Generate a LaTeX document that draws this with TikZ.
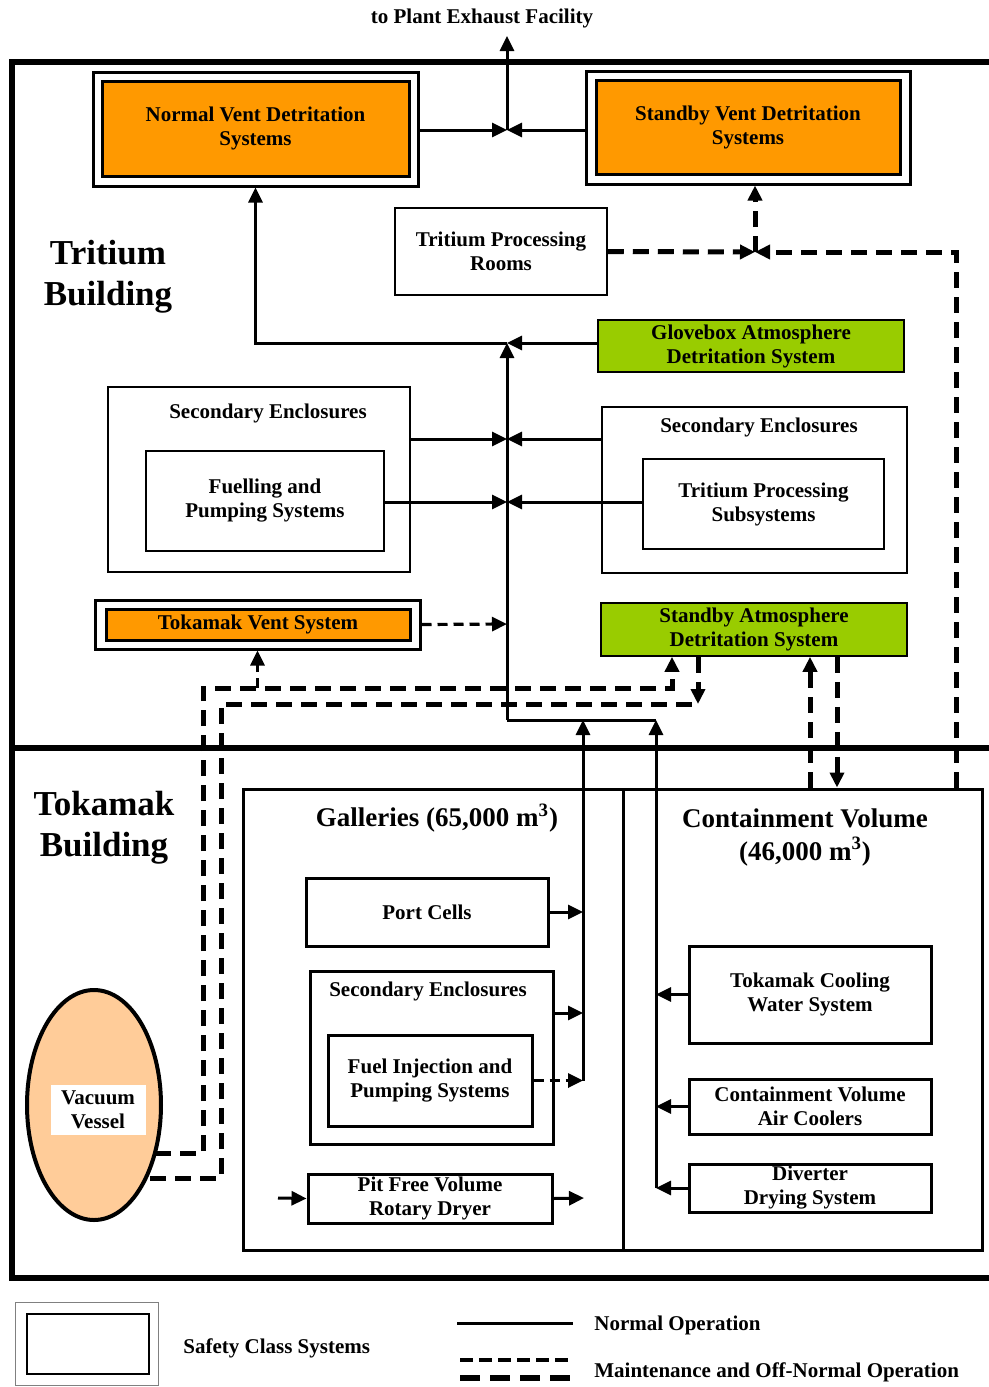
\documentclass[tikz,border=0pt]{standalone}
\usepackage{fontspec}
\setmainfont{Liberation Serif}
\usetikzlibrary{shapes.geometric,arrows.meta}
\definecolor{vorange}{HTML}{FF9900}
\definecolor{vgreen}{HTML}{99CC00}
\definecolor{vpeach}{HTML}{FFCC99}
\tikzset{
 txt/.style={font=\fontsize{10.5}{12}\selectfont\bfseries, align=center, inner sep=0pt},
 bigtxt/.style={font=\fontsize{17.5}{20.5}\selectfont\bfseries, align=center, inner sep=0pt},
 midtxt/.style={font=\fontsize{13.5}{16.5}\selectfont\bfseries, align=center, inner sep=0pt},
 boxfit/.style={inner sep=0pt, draw, txt},
 safeout/.style={boxfit, line width=1.5pt, fill=white},
 orangebox/.style={boxfit, line width=1.5pt, fill=vorange},
 greenbox/.style={boxfit, line width=0.8pt, fill=vgreen},
 thinbox/.style={boxfit, line width=0.75pt},
 medbox/.style={boxfit, line width=1.5pt},
 legout/.style={boxfit, line width=0.5pt, draw=gray},
 legin/.style={boxfit, line width=0.8pt},
 tip/.style={-{Triangle[length=7.5pt,width=7pt]}},
 conn/.style={line width=1.5pt, tip},
 plainc/.style={line width=1.5pt},
 dashc/.style={line width=2.5pt, dash pattern=on 8pt off 4.5pt, tip},
 dashp/.style={line width=2.5pt, dash pattern=on 8pt off 4.5pt},
 dashs/.style={line width=1.6pt, dash pattern=on 5pt off 3pt, tip},
 wall/.style={line width=3pt},
}
% box from corner pixel coordinates: style, name, x1, y1, x2, y2, text
\newcommand{\boxat}[7]{%
 \pgfmathsetmacro\bxcx{(#3+#5)/2}\pgfmathsetmacro\bxcy{(#4+#6)/2}%
 \pgfmathsetmacro\bxw{(#5-#3)*0.5}\pgfmathsetmacro\bxh{(#6-#4)*0.5}%
 \node[#1, minimum width=\bxw pt, minimum height=\bxh pt] (#2) at (\bxcx,\bxcy) {#7};}
\begin{document}
\begin{tikzpicture}[x=0.5pt,y=-0.5pt]
\useasboundingbox (0,0) rectangle (989,1387);
% building walls
\draw[wall] (989,62) -- (12,62) -- (12,1278) -- (989,1278);
\draw[wall] (10,748) -- (989,748);

% nodes
\node[txt] (exh) at (482,18) {to Plant Exhaust Facility};
\coordinate (exhT) at (507,36);
\boxat{safeout}{nvdO}{93}{72}{418}{186}{}
\boxat{orangebox}{nvd}{102}{81}{409}{176}{Normal Vent Detritation\\Systems}
\boxat{safeout}{svdO}{586}{71}{910}{184}{}
\boxat{orangebox}{svd}{596}{80}{900}{174}{Standby Vent Detritation\\Systems}
\boxat{thinbox}{tpr}{395}{208}{607}{295}{Tritium Processing\\Rooms}
\node[bigtxt] (tb) at (108,277) {Tritium\\Building};
\boxat{greenbox}{gb}{598}{320}{904}{372}{Glovebox Atmosphere\\Detritation System}
\boxat{thinbox}{seL}{108}{387}{410}{572}{}
\node[txt] (seLt) at (268,413) {Secondary Enclosures};
\boxat{thinbox}{fp}{146}{451}{384}{551}{Fuelling and\\Pumping Systems}
\boxat{thinbox}{seR}{602}{407}{907}{573}{}
\node[txt] (seRt) at (759,427) {Secondary Enclosures};
\boxat{thinbox}{tps}{643}{459}{884}{549}{Tritium Processing\\Subsystems}
\boxat{safeout}{tvO}{95}{600}{420}{649}{}
\boxat{orangebox}{tv}{106}{609}{410}{640}{Tokamak Vent System}
\boxat{greenbox}{sad}{601}{603}{907}{656}{Standby Atmosphere\\Detritation System}

\node[bigtxt] (tkb) at (104,828) {Tokamak\\Building};
\boxat{medbox}{gal}{243}{789}{623}{1250}{}
\node[midtxt] (galt) at (437,818) {Galleries (65,000 m\textsuperscript{3})};
\boxat{medbox}{cv}{623}{789}{982}{1250}{}
\node[midtxt] (cvt) at (805,837) {Containment Volume\\(46,000 m\textsuperscript{3})};
\boxat{medbox}{pc}{306}{878}{548}{946}{Port Cells}
\boxat{medbox}{seG}{310}{971}{553}{1144}{}
\node[txt] (seGt) at (428,991) {Secondary Enclosures};
\boxat{medbox}{fi}{328}{1035}{532}{1126}{Fuel Injection and\\Pumping Systems}
\boxat{medbox}{pf}{308}{1174}{552}{1223}{Pit Free Volume\\Rotary Dryer}
\boxat{medbox}{tcw}{689}{946}{931}{1043}{Tokamak Cooling\\Water System}
\boxat{medbox}{cva}{689}{1079}{931}{1134}{Containment Volume\\Air Coolers}
\boxat{medbox}{dds}{689}{1164}{931}{1212}{Diverter\\Drying System}
\node[ellipse, draw, line width=2pt, fill=vpeach, minimum width=67pt, minimum height=115pt, inner sep=0pt] (vv) at (94,1105) {};
\node[txt, fill=white, minimum width=47.5pt, minimum height=25pt] (vvl) at (98,1110) {Vacuum\\Vessel};

% junctions
\coordinate (J0) at (507,130);
\coordinate (Jsv) at (755,252);
\coordinate (Jgb) at (507,343);
\coordinate (J1) at (507,439);
\coordinate (J2) at (507,502);
\coordinate (Jtv) at (507,624);
\coordinate (Jb) at (507,720);
\coordinate (J583) at (583,720);
\coordinate (J656) at (656,720);
\coordinate (c1013) at (583,1013);
\coordinate (pfin) at (278,1198);
\coordinate (pfout) at (584,1198);
\coordinate (x956) at (956,0);
\coordinate (x810) at (810,0);
\coordinate (x837) at (837,0);
\coordinate (xA) at (672,0);
\coordinate (xB) at (698,0);
\coordinate (vvA) at (155,1153);
\coordinate (vvB) at (150,1178);
\coordinate (A1) at (203,688);
\coordinate (B1) at (221,704);

% normal operation connectors
\draw[conn] (nvdO.east |- J0) -- (J0);
\draw[conn] (svdO.west |- J0) -- (J0);
\draw[conn] (J0) -- (exhT);
\draw[conn] (gb.west |- Jgb) -- (Jgb);
\draw[conn] (Jgb) -| (nvdO.south);
\draw[conn] (Jb) -- (Jgb);
\draw[conn] (seL.east |- J1) -- (J1);
\draw[conn] (seR.west |- J1) -- (J1);
\draw[conn] (fp.east |- J2) -- (J2);
\draw[conn] (tps.west |- J2) -- (J2);
\draw[plainc] (Jb) -- (J656);
\draw[conn] (fi.east -| J583) -- (J583);
\draw[conn] (dds.west -| J656) -- (J656);
\draw[conn] (pc.east) -- (pc.east -| J583);
\draw[conn] (seG.east |- c1013) -- (c1013);
\draw[conn] (pfin) -- (pf.west);
\draw[conn] (pf.east) -- (pfout);
\draw[conn] (tcw.west) -- (tcw.west -| J656);
\draw[conn] (cva.west) -- (cva.west -| J656);
\draw[conn] (dds.west) -- (dds.west -| J656);

% maintenance / off-normal connectors
\draw[dashs] (tvO.east) -- (Jtv);
\draw[dashs] (fi.east) -- (fi.east -| J583);
\draw[dashc] (tpr.east) -- (Jsv);
\draw[dashc] (cv.north -| x956) |- (Jsv);
\draw[dashc] (Jsv) -- (Jsv |- svdO.south);
\draw[dashc] (cv.north -| x810) -- (sad.south -| x810);
\draw[dashc] (sad.south -| x837) -- (cv.north -| x837);
\draw[dashc] (vvA) -| (A1) -| (sad.south -| xA);
\draw[dashs] (tvO.south |- A1) -- (tvO.south);
\draw[dashp] (vvB) -| (B1) -- (B1 -| xB);
\draw[dashc] (sad.south -| xB) -- (B1 -| xB);

% legend
\boxat{legout}{lgO}{15}{1302}{158}{1385}{}
\boxat{legin}{lgI}{27}{1314}{149}{1374}{}
\node[txt, anchor=west] (lgS) at (183,1348) {Safety Class Systems};
\coordinate (ln1a) at (457,1323);
\coordinate (ln1b) at (573,1323);
\draw[plainc] (ln1a) -- (ln1b);
\node[txt, anchor=west] (lgN) at (594,1325) {Normal Operation};
\coordinate (ln2a) at (460,1360);
\coordinate (ln2b) at (573,1360);
\coordinate (ln3a) at (460,1378);
\coordinate (ln3b) at (573,1378);
\draw[line width=2pt, dash pattern=on 6.5pt off 3pt] (ln2a) -- (ln2b);
\draw[line width=2.8pt, dash pattern=on 10pt off 5pt] (ln3a) -- (ln3b);
\node[txt, anchor=west] (lgM) at (594,1372) {Maintenance and Off-Normal Operation};
\end{tikzpicture}
\end{document}
